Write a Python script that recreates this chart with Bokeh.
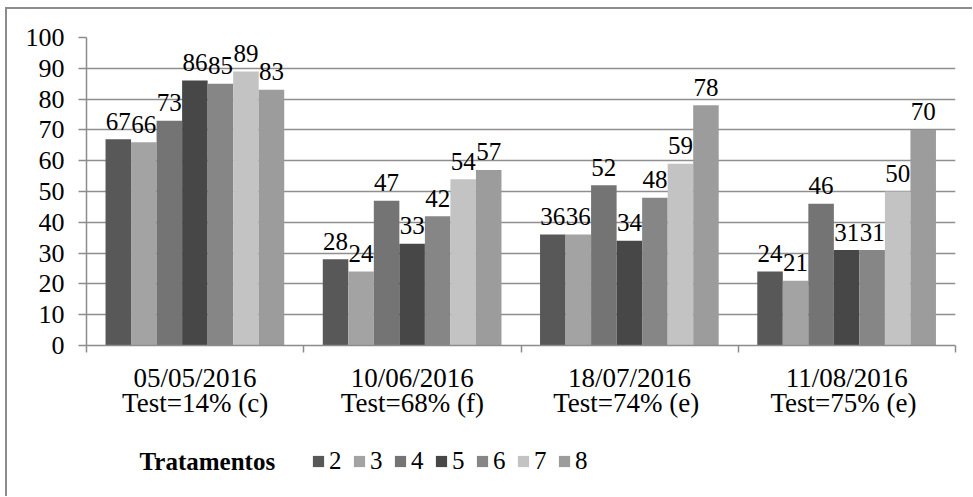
from bokeh.plotting import figure
from bokeh.models import FixedTicker, ColumnDataSource, Legend, LegendItem, Range1d, Label
from bokeh.layouts import column
from bokeh.core.properties import value
from bokeh.embed import file_html
from bokeh.resources import INLINE

dates = ["05/05/2016", "10/06/2016", "18/07/2016", "11/08/2016"]
tests = ["Test=14% (c)", "Test=68% (f)", "Test=74%  (e)", "Test=75%  (e)"]
treatments = ["2", "3", "4", "5", "6", "7", "8"]
t2 = [67, 28, 36, 24]
t3 = [66, 24, 36, 21]
t4 = [73, 47, 52, 46]
t5 = [86, 33, 34, 31]
t6 = [85, 42, 48, 31]
t7 = [89, 54, 59, 50]
t8 = [83, 57, 78, 70]
series = [t2, t3, t4, t5, t6, t7, t8]
y_ticks = [0, 10, 20, 30, 40, 50, 60, 70, 80, 90, 100]
colors = ["#585858", "#a3a3a3", "#747474", "#474747", "#868686", "#c3c3c3", "#9c9c9c"]
legend_title = "Tratamentos"

FONT = "Liberation Serif"
n = len(dates)
gap = 0.0876
bw = 0.1175

p = figure(frame_width=869, frame_height=308,
           min_border_left=79, min_border_top=28, min_border_right=17, min_border_bottom=75,
           x_range=Range1d(0, n), y_range=Range1d(0, 100),
           output_backend="svg", toolbar_location=None)
p.outline_line_color = None
p.background_fill_color = "white"
p.border_fill_color = "white"

for j, (name, vals, col) in enumerate(zip(treatments, series, colors)):
    xs = [i + gap + bw * (j + 0.5) for i in range(n)]
    src = ColumnDataSource(dict(x=xs, top=vals, lab=[str(v) for v in vals]))
    p.vbar(x="x", top="top", bottom=0, width=bw, source=src,
           fill_color=col, line_color=None)
    p.text(x="x", y="top", text="lab", source=src, text_align="center",
           text_baseline="alphabetic", y_offset=-18,
           text_font=value(FONT), text_font_size="25px", text_color="black")

# grid
p.xgrid.visible = False
p.ygrid.ticker = FixedTicker(ticks=y_ticks)
p.ygrid.grid_line_color = "#8f8f8f"
p.ygrid.grid_line_width = 1.5

# y axis
ya = p.yaxis[0]
ya.ticker = FixedTicker(ticks=y_ticks)
ya.major_tick_out = 8
ya.major_tick_in = 0
ya.minor_tick_out = 0
ya.minor_tick_in = 0
ya.axis_line_color = "#8c8c8c"
ya.axis_line_width = 1.5
ya.major_tick_line_color = "#8c8c8c"
ya.major_tick_line_width = 1.5
ya.major_label_text_font = FONT
ya.major_label_text_font_size = "26px"
ya.major_label_text_color = "black"
ya.major_label_standoff = 14

# x axis
xa = p.xaxis[0]
centers = [i + 0.5 for i in range(n)]
xa.ticker = FixedTicker(ticks=centers, minor_ticks=list(range(n + 1)))
xa.major_label_overrides = {c: d + "\n" + t for c, d, t in zip(centers, dates, tests)}
xa.major_tick_out = 0
xa.major_tick_in = 0
xa.minor_tick_out = 7
xa.minor_tick_in = 0
xa.minor_tick_line_color = "#8c8c8c"
xa.minor_tick_line_width = 1.5
xa.axis_line_color = "#8c8c8c"
xa.axis_line_width = 1.5
xa.major_label_text_font = FONT
xa.major_label_text_font_size = "27px"
xa.major_label_text_line_height = 0.85
xa.major_label_text_color = "black"
xa.major_label_standoff = 10

# legend strip
lg = figure(width=965, height=75, min_border=0, x_axis_location=None, y_axis_location=None,
            x_range=Range1d(0, 1), y_range=Range1d(0, 1),
            output_backend="svg", toolbar_location=None)
lg.outline_line_color = None
lg.xgrid.visible = False
lg.ygrid.visible = False
items = []
for name, col in zip(treatments, colors):
    proxy = ColumnDataSource(dict(x=[0], top=[0]))
    r = lg.vbar(x="x", top="top", bottom=0, width=0, source=proxy,
                fill_color=col, line_color=None)
    items.append(LegendItem(label=name, renderers=[r]))
legend = Legend(items=items, orientation="horizontal", location=(225, 21),
                label_text_font=FONT, label_text_font_size="25px", label_text_color="black",
                glyph_width=14, glyph_height=14, label_standoff=4, spacing=3,
                padding=0, margin=0, border_line_color=None, background_fill_alpha=0)
lg.add_layout(legend)
lg.add_layout(Label(x=53, y=35, x_units="screen", y_units="screen", text=legend_title,
                    text_font=FONT, text_font_size="25px", text_font_style="bold",
                    text_color="black", text_baseline="middle", text_align="left"))

layout = column(p, lg, spacing=0)
layout.styles = {"border-left": "2px solid #8c8c8c", "border-top": "2px solid #8c8c8c",
                 "margin-left": "5px", "margin-top": "7px"}

open("out.html", "w").write(file_html(layout, INLINE))
